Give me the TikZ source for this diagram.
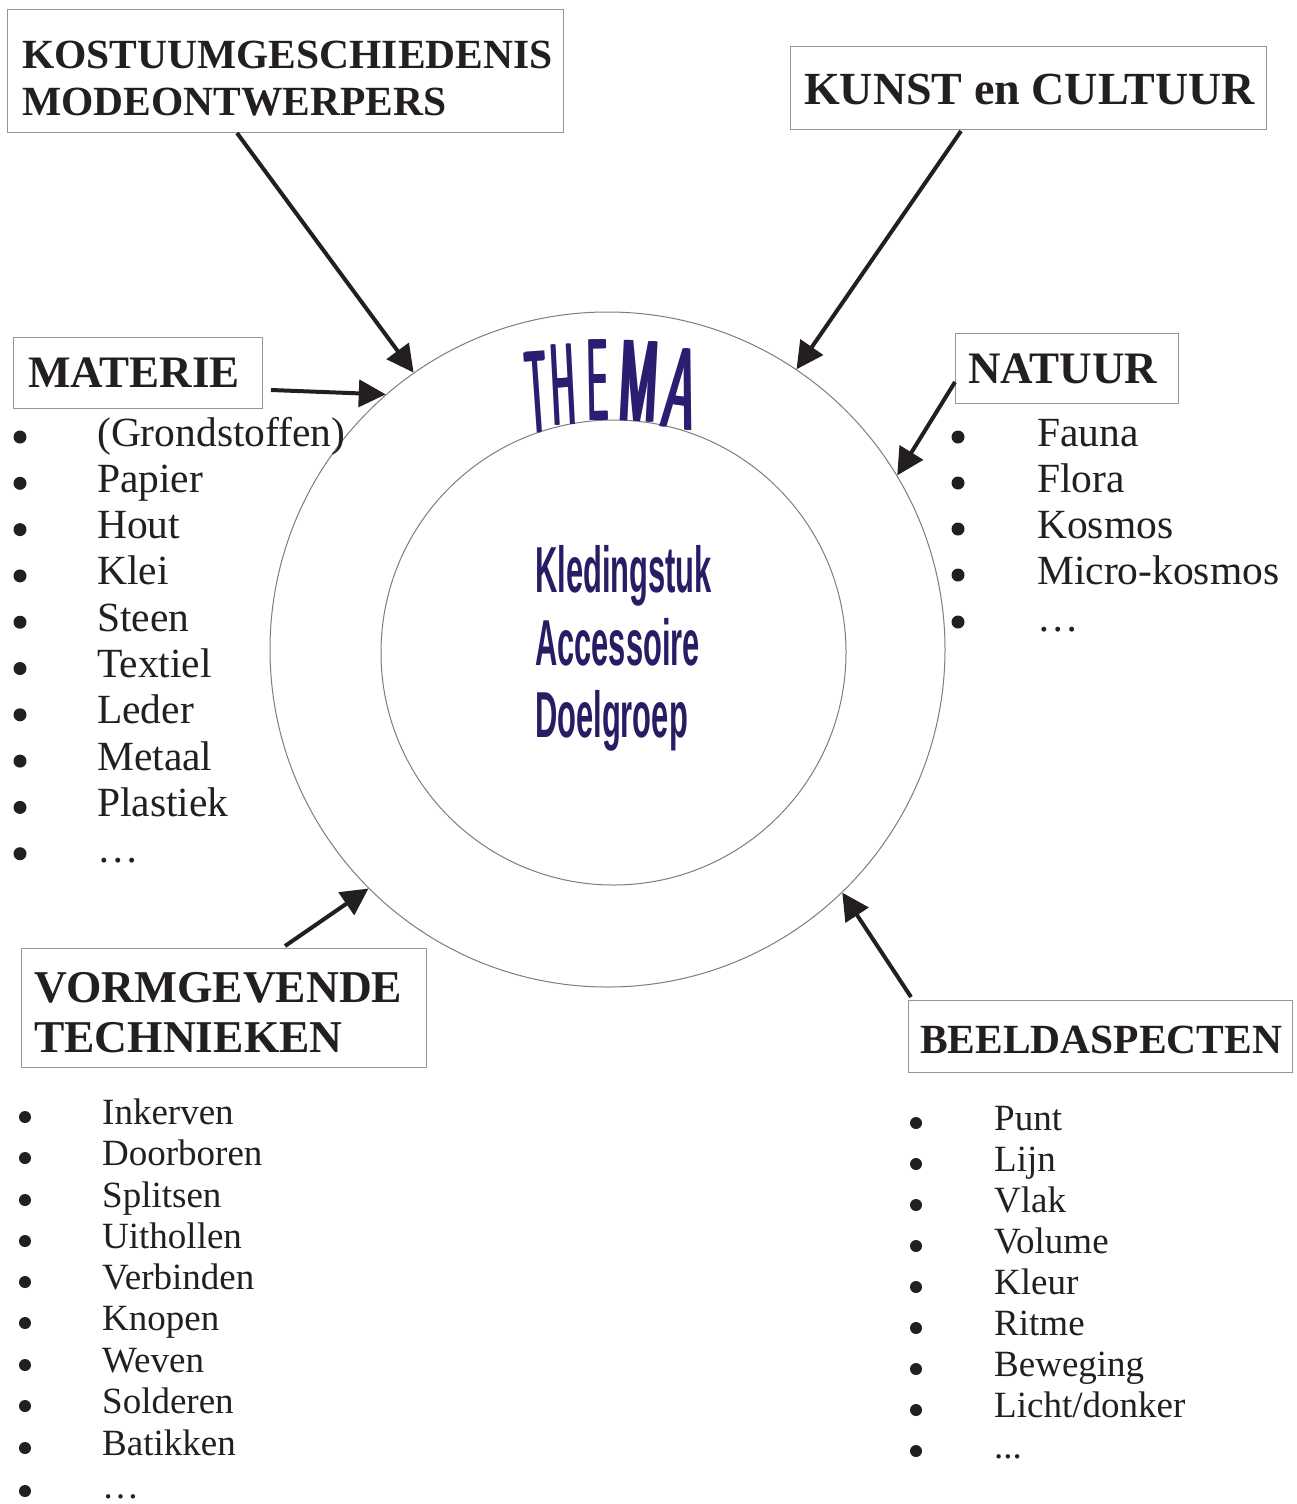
\documentclass[tikz,border=0pt]{standalone}
\usepackage{fontspec}
\setmainfont{Liberation Serif}
\newfontfamily\sansfam{Liberation Sans}
\usetikzlibrary{arrows.meta}
\definecolor{ink}{RGB}{35,31,32}
\definecolor{frameline}{RGB}{150,150,150}
\definecolor{ringline}{RGB}{125,125,125}
\definecolor{themablue}{RGB}{42,30,112}
\definecolor{navy}{RGB}{40,28,100}
% a glyph set three times side by side, so that its upright strokes get wider
\newcommand{\widestroke}[1]{\rlap{#1}\kern4pt\rlap{#1}\kern4pt#1}

\begin{document}
\begin{tikzpicture}[x=1pt,y=-1pt,
  frame/.style={draw=frameline,line width=1.2pt,rectangle,inner sep=0pt,anchor=north west},
  title/.style={anchor=base west,inner sep=0pt,text=ink,font=\fontsize{#1}{#1}\selectfont\bfseries},
  item/.style={anchor=base west,inner sep=0pt,text=ink,font=\fontsize{#1}{#1}\selectfont},
  bulletdot/.style={circle,fill=ink,inner sep=0pt,minimum size=#1},
  ring/.style={circle,draw=ringline,line width=1pt,inner sep=0pt},
  feed/.style={draw=ink,line width=4pt,-{Triangle[length=27pt,width=27pt]}},
  themaletter/.style={anchor=base,inner sep=0pt,text=themablue,font=\sansfam\fontsize{117}{117}\selectfont},
  centre/.style={anchor=base west,inner sep=0pt,text=navy,font=\sansfam\bfseries\fontsize{65}{65}\selectfont}
]
\fill[white] (0,0) rectangle (1296,1504);
\useasboundingbox (0,0) rectangle (1296,1504);

% rings
\node[ring,minimum size=675pt] (outer) at (607.5,649.5) {};
\node[ring,minimum size=465pt] (inner) at (613.5,652.5) {};

% arched THEMA along the inner ring
\node[themaletter,rotate=4]  (thT) at (540,432.3) {\scalebox{0.29}[1]{\widestroke{T}}};
\node[themaletter,rotate=3]  (thH) at (565,425.1) {\scalebox{0.28}[1]{\widestroke{H}}};
\node[themaletter,rotate=1]  (thE) at (599,420.5) {\scalebox{0.26}[1]{\widestroke{E}}};
\node[themaletter,rotate=-3] (thM) at (637,421.2) {\scalebox{0.38}[1]{\widestroke{M}}};
\node[themaletter,rotate=-8] (thA) at (676,428.6) {\scalebox{0.38}[1]{\widestroke{A}}};

% centre words
\node[centre] (kled) at (535,592) {\scalebox{0.475}[1]{Kledingstuk}};
\node[centre] (acc)  at (535,665) {\scalebox{0.475}[1]{Accessoire}};
\node[centre] (doel) at (535,737) {\scalebox{0.475}[1]{Doelgroep}};

% frames
\node[frame,minimum width=556pt,minimum height=123pt] (kostbox)  at (7,9) {};
\node[frame,minimum width=476pt,minimum height=83pt]  (kunstbox) at (790,46) {};
\node[frame,minimum width=249pt,minimum height=71pt]  (matbox)   at (13,337) {};
\node[frame,minimum width=223pt,minimum height=70pt]  (natbox)   at (955,333) {};
\node[frame,minimum width=405pt,minimum height=119pt] (vormbox)  at (21,948) {};
\node[frame,minimum width=384pt,minimum height=72pt]  (beeldbox) at (908,1000) {};

% titles
\node[title=41.5] (kost1) at (22,68)  {KOSTUUMGESCHIEDENIS};
\node[title=41.5] (kost2) at (22,115) {MODEONTWERPERS};
\node[title=46]   (kunst) at (804,104) {KUNST en CULTUUR};
\node[title=45]   (mat)   at (28,387) {MATERIE};
\node[title=45]   (nat)   at (968,383) {NATUUR};
\node[title=45.5] (vorm1) at (34,1002) {VORMGEVENDE};
\node[title=45.5] (vorm2) at (34,1052) {TECHNIEKEN};
\node[title=41.5] (beeld) at (920,1053) {BEELDASPECTEN};

% arrow tails
\coordinate (kostout)  at (237,133);
\coordinate (kunstout) at (961,131);
\coordinate (matout)   at (271,390);
\coordinate (natout)   at (955,382);
\coordinate (vormout)  at (285,946);
\coordinate (beeldout) at (911,997);

\draw[feed] (kostout)  -- (outer.125.1);
\draw[feed] (kunstout) -- (outer.56.3);
\draw[feed] (matout)   -- (outer.131.6);
\draw[feed] (natout)   -- (outer.31.7);
\draw[feed] (vormout)  -- (outer.225.4);
\draw[feed] (beeldout) -- (outer.314.4);

% lists
\foreach \t/\y [count=\i] in {{(Grondstoffen)}/446,Papier/492.3,Hout/538.6,Klei/584.9,Steen/631.2,Textiel/677.5,Leder/723.8,Metaal/770.1,Plastiek/816.4,\ldots/862.7}{
  \node[bulletdot=13pt] (matdot\i) at (20,\y-9) {};
  \node[item=41.5] (matitem\i) at (97,\y) {\t};
}
\foreach \t/\y [count=\i] in {Fauna/446,Flora/492,Kosmos/538,Micro-kosmos/584,\ldots/631}{
  \node[bulletdot=13pt] (natdot\i) at (958,\y-9) {};
  \node[item=41.5] (natitem\i) at (1037,\y) {\t};
}
\foreach \t/\y [count=\i] in {Inkerven/1124,Doorboren/1165,Splitsen/1207,Uithollen/1248,Verbinden/1289,Knopen/1330,Weven/1372,Solderen/1413,Batikken/1455,\ldots/1498}{
  \node[bulletdot=12pt] (vormdot\i) at (25,\y-7) {};
  \node[item=37] (vormitem\i) at (102,\y) {\t};
}
\foreach \t/\y [count=\i] in {Punt/1130,Lijn/1171,Vlak/1212,Volume/1253,Kleur/1294,Ritme/1335,Beweging/1376,{Licht/donker}/1417,{.{}.{}.}/1458}{
  \node[bulletdot=12pt] (beelddot\i) at (916,\y-7) {};
  \node[item=37] (beelditem\i) at (994,\y) {\t};
}
\end{tikzpicture}
\end{document}
